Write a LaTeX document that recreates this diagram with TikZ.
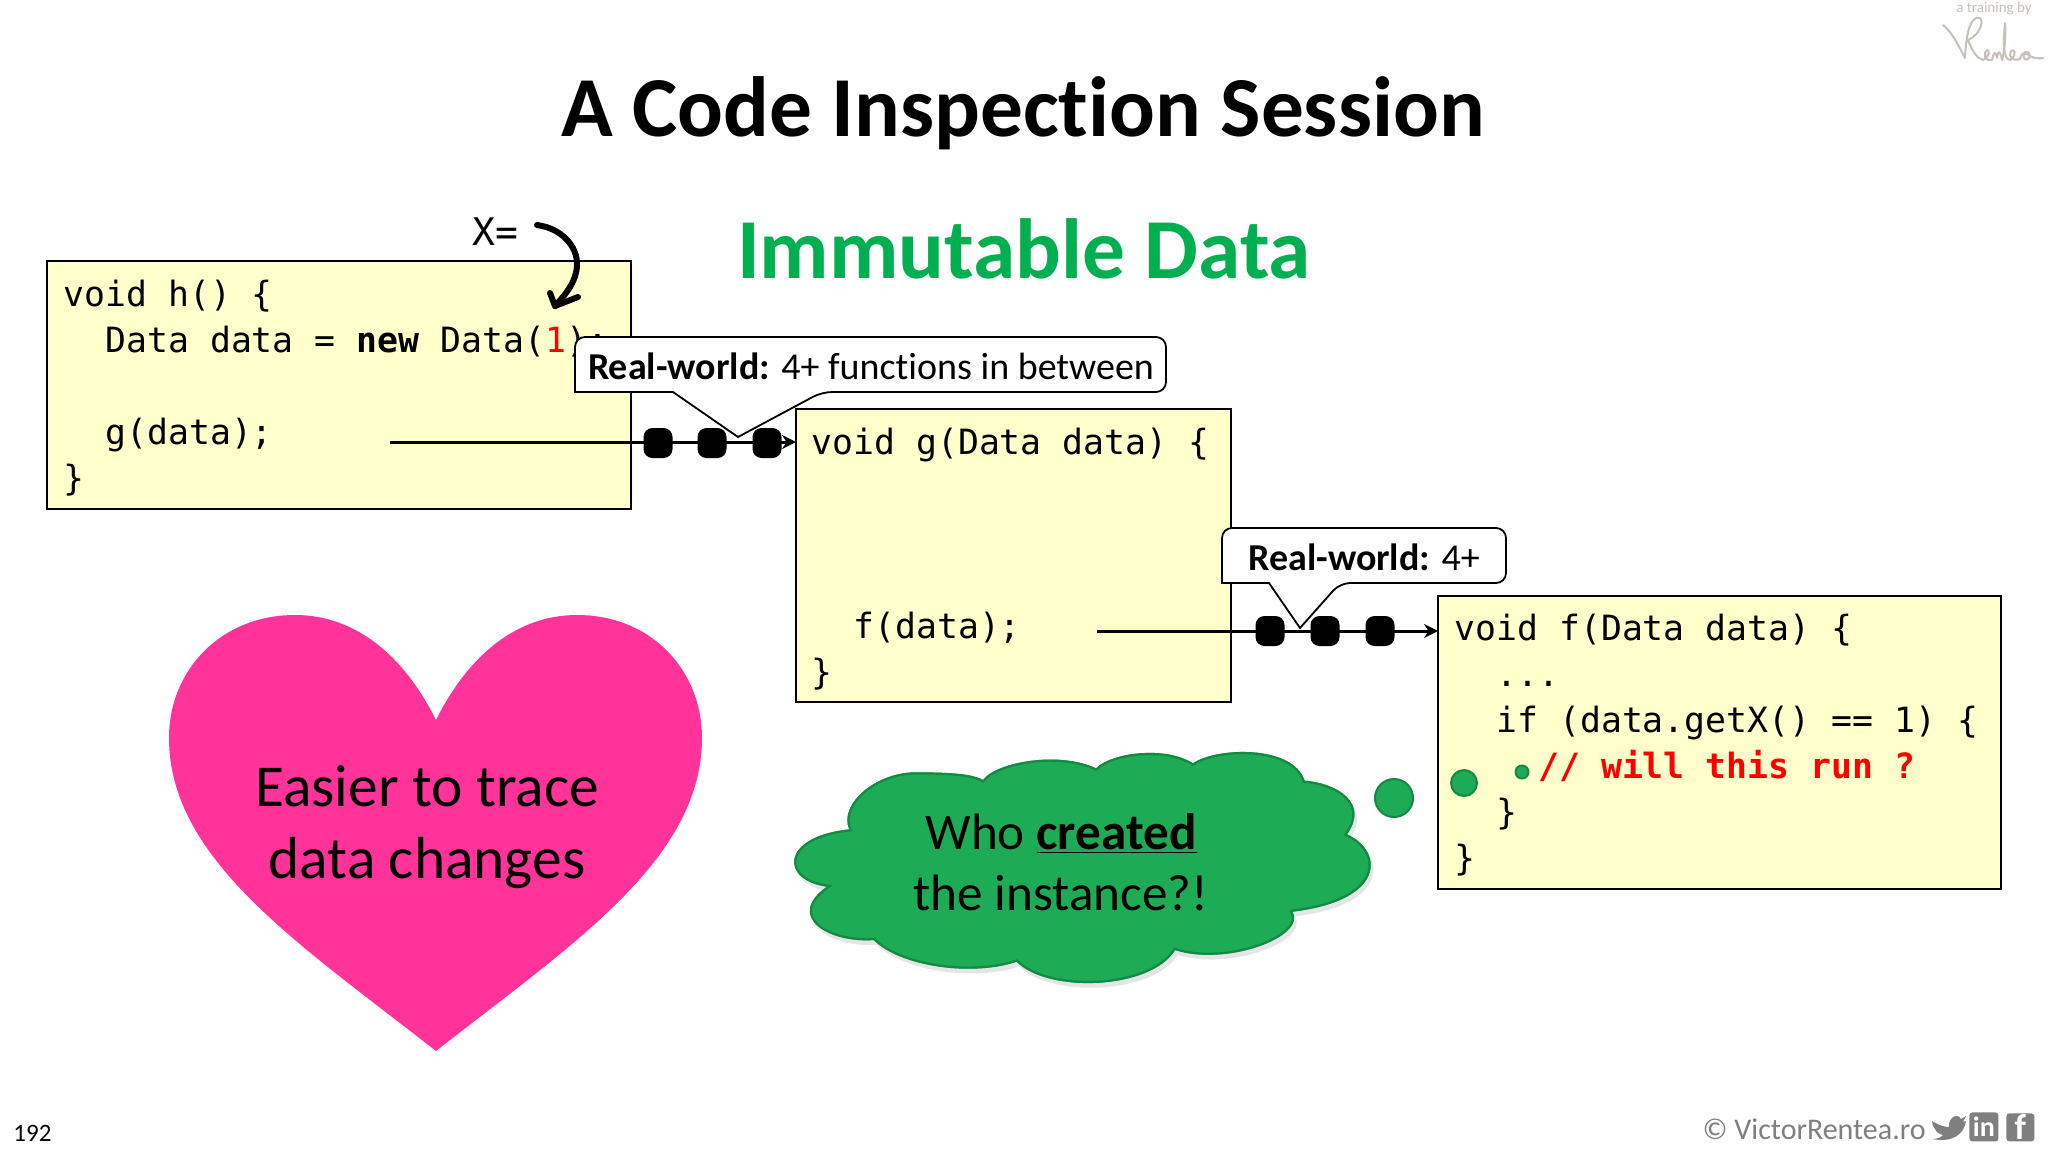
\documentclass[tikz,border=0pt]{standalone}
\usepackage{fontspec}
\setmainfont[Ligatures=NoCommon]{Carlito}
\newfontfamily\codefam{DejaVu Sans Mono}
\usetikzlibrary{calc,arrows.meta}
\definecolor{codebg}{HTML}{FFFFCC}
\definecolor{cloudgreen}{HTML}{1EAB56}
\definecolor{cloudedge}{HTML}{138A42}
\definecolor{titlegreen}{HTML}{00B050}
\definecolor{heartpink}{HTML}{FF3399}
\definecolor{footgray}{HTML}{7F7F7F}
\definecolor{siggray}{HTML}{C6C2BB}
\newcommand{\sz}[1]{\fontsize{#1}{#1}\selectfont}
\newcommand{\ind}{\phantom{xx}}
\tikzset{
  codebox/.style={draw=black,line width=1pt,fill=codebg,anchor=north west,inner sep=0pt,outer sep=0pt},
  codetext/.style={anchor=north west,inner sep=0pt,align=left,font=\codefam\fontsize{17.4}{23}\selectfont},
  dotmark/.style={fill=black,rounded corners=4.5pt,minimum width=14.5pt,minimum height=15pt,inner sep=0pt},
  flow/.style={line width=1.5pt,-{Stealth[length=7pt,width=7pt]}},
  balloon/.style={draw=black,line width=.9pt,fill=white},
  plain/.style={inner sep=0pt,align=center},
  bubble/.style={fill=cloudgreen,draw=cloudedge,line width=1pt,circle,inner sep=0pt},
  iconsq/.style={fill=footgray,rounded corners=1.5pt,anchor=north west,inner sep=0pt,text=white,font=\bfseries\sz{14}}
}
\newcommand{\heartpath}{(436,720) .. controls (401,650) and (351,615) .. (295,615)
  .. controls (221,615) and (169,670) .. (169,738)
  .. controls (169,860) and (301,945) .. (436,1051)
  .. controls (571,945) and (702,860) .. (702,738)
  .. controls (702,670) and (651,615) .. (577,615)
  .. controls (521,615) and (471,650) .. (436,720) -- cycle}
\newcommand{\cloudpath}{(155,268)
  .. controls (130,190) and (220,92) .. (310,97)
  .. controls (370,97) and (430,100) .. (455,120)
  .. controls (480,70) and (620,30) .. (708,85)
  .. controls (740,40) and (860,15) .. (925,70)
  .. controls (980,20) and (1150,15) .. (1175,122)
  .. controls (1250,130) and (1320,190) .. (1270,283)
  .. controls (1350,330) and (1362,480) .. (1148,515)
  .. controls (1180,590) and (1000,680) .. (885,630)
  .. controls (830,750) and (600,760) .. (530,665)
  .. controls (430,710) and (270,680) .. (210,600)
  .. controls (110,610) and (10,530) .. (105,440)
  .. controls (0,420) and (0,290) .. (155,268) -- cycle}
\begin{document}
\begin{tikzpicture}[x=.5pt,y=-.5pt]
\useasboundingbox (0,0) rectangle (2048,1152);
\fill[white] (0,0) rectangle (2048,1152);

% title
\node[plain,font=\bfseries\sz{42.7}] (title) at (1023,113) {A Code Inspection Session};
\node[plain,font=\bfseries\sz{42.7},text=titlegreen] (subtitle) at (1024,249) {Immutable Data};

% logo
\node[plain,font=\sz{7.5},text=siggray] (tby) at (1994,9) {a training by};
\draw[siggray,line width=1pt,line cap=round,line join=round]
 (1943,25) .. controls (1952,32) and (1960,48) .. (1965,58)
 .. controls (1966,40) and (1968,22) .. (1976,18)
 .. controls (1986,15) and (1982,34) .. (1968,40)
 .. controls (1972,50) and (1976,58) .. (1983,60)
 .. controls (1990,56) and (1990,50) .. (1987,50)
 .. controls (1983,52) and (1984,62) .. (1992,60)
 .. controls (1994,52) and (1995,50) .. (1997,58)
 .. controls (1998,50) and (2000,50) .. (2002,60)
 .. controls (2005,50) and (2006,32) .. (2005,23)
 .. controls (2003,40) and (2003,60) .. (2010,60)
 .. controls (2018,54) and (2014,48) .. (2011,51)
 .. controls (2008,56) and (2012,62) .. (2020,59)
 .. controls (2022,50) and (2030,50) .. (2030,56)
 .. controls (2028,62) and (2022,60) .. (2024,54)
 .. controls (2028,52) and (2030,60) .. (2043,58);

% code boxes
\node[codebox,minimum width=292pt,minimum height=124pt] (h) at (47,261) {};
\node[codebox,minimum width=217.5pt,minimum height=146.5pt] (g) at (796,409) {};
\node[codebox,minimum width=281.5pt,minimum height=146.5pt] (f) at (1438,596) {};

\node[codetext] (htext) at (63,280) {void h() \{\\
\ind Data data = \textbf{new} Data(\textcolor{red}{1});\\
\mbox{}\\
\ind g(data);\\
\}};
\node[codetext] (gtext) at (811,428) {void g(Data data) \{\\
\mbox{}\\
\mbox{}\\
\mbox{}\\
\ind f(data);\\
\}};
\node[codetext] (ftext) at (1454,614) {void f(Data data) \{\\
\ind ...\\
\ind if (data.getX() == 1) \{\\
\ind\ind\textcolor{red}{\textbf{// will this run ?}}\\
\ind\}\\
\}};

% x= annotation
\node[plain,font=\codefam\sz{19}] (xeq) at (495,232) {X=};
\coordinate (xa) at (537,225);
\coordinate (xb) at (555,306);
\draw[line width=3pt,line cap=round,line join=round] (xa) .. controls (560,228) and (578,245) .. (577,266) .. controls (576,282) and (566,294) .. (xb);
\draw[line width=3pt,line cap=round,line join=round] (550,293) -- (xb) -- (578,297);

% connectors
\coordinate (hcall) at (390,442);
\coordinate (fcall) at (1097,631);
\draw[flow] (hcall) -- (hcall -| g.west);
\draw[flow] (fcall) -- (fcall -| f.west);
\foreach \n/\x in {a/658,b/712,c/767}{\node[dotmark] (d\n) at (\x,443) {};}
\foreach \n/\x in {p/1270,q/1325,r/1380}{\node[dotmark] (d\n) at (\x,631) {};}

% callouts
\draw[balloon] (800,337) [rounded corners=5pt] -- (1166,337) -- (1166,392) -- (822,392) [sharp corners] -- (738,437) -- (673,392) -- (575,392) [rounded corners=5pt] -- (575,337) -- cycle;
\node[plain,font=\sz{19}] (c1) at (871,366) {\textbf{Real-world:} 4+ functions in between};
\draw[balloon] (1400,528) [rounded corners=5pt] -- (1506,528) -- (1506,583) -- (1340,583) [sharp corners] -- (1300,628) -- (1269,583) -- (1222,583) [rounded corners=5pt] -- (1222,528) -- cycle;
\node[plain,font=\sz{19}] (c2) at (1364,557) {\textbf{Real-world:} 4+};

% heart
\fill[heartpink] \heartpath;
\node[plain,font=\fontsize{29.7}{36}\selectfont] (heart) at (427,827) {Easier to trace\\data changes};

% cloud
\begin{scope}[shift={(780,740)},x=.2232pt,y=-.1667pt]
\begin{scope}[shift={(6,14)}]
\fill[black,opacity=.10] \cloudpath;
\end{scope}
\fill[cloudgreen] \cloudpath;
\begin{scope}
\clip \cloudpath;
\draw[cloudedge,line width=2.2pt] \cloudpath;
\end{scope}
\end{scope}
\node[plain,font=\fontsize{25.6}{30.7}\selectfont] (cloud) at (1061,862) {Who \underline{\textbf{created}}\\the instance?!};
\node[bubble,minimum size=19pt] (b1) at (1394,798) {};
\node[bubble,minimum size=13pt] (b2) at (1464,783) {};
\node[bubble,minimum size=6.5pt] (b3) at (1522,772) {};

% footer
\node[plain,font=\sz{12.5},anchor=west] (pg) at (13,1133) {192};
\node[plain,font=\sz{15},text=footgray,anchor=east] (foot) at (1926,1129) {© VictorRentea.ro};
\fill[footgray] (1932,1121) .. controls (1940,1126) and (1946,1127) .. (1949,1127)
 .. controls (1948,1118) and (1957,1112) .. (1961,1119) -- (1966,1116) -- (1963,1122) -- (1966,1121)
 .. controls (1964,1134) and (1953,1143) .. (1932,1139)
 .. controls (1938,1139) and (1941,1137) .. (1943,1135)
 .. controls (1938,1134) and (1936,1131) .. (1935,1129)
 .. controls (1933,1127) and (1932,1124) .. (1932,1121) -- cycle;
\node[iconsq,minimum width=14.5pt,minimum height=14.5pt] (in) at (1969,1112) {in};
\node[iconsq,minimum width=14pt,minimum height=14pt,font=\bfseries\sz{18}] (fb) at (2006,1113) {f};
\end{tikzpicture}
\end{document}
